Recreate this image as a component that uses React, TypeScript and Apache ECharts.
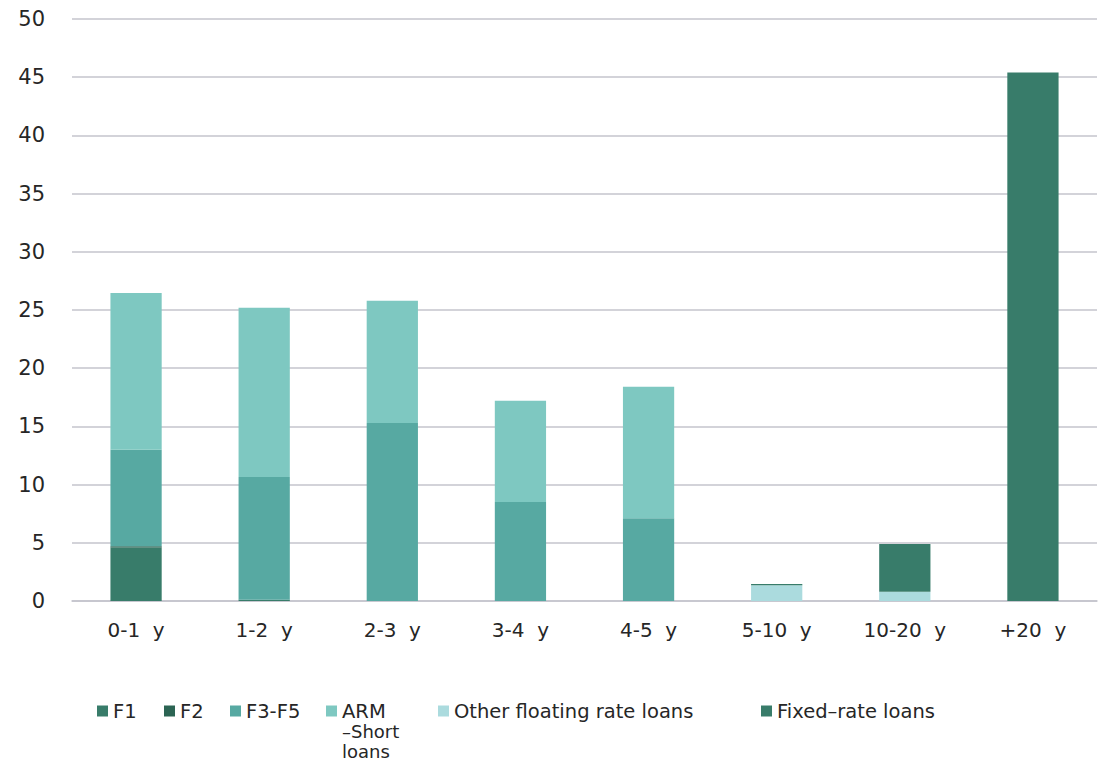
import React, { useEffect, useRef } from "react";
import * as echarts from "echarts";

const categories = ["0-1  y", "1-2  y", "2-3  y", "3-4  y", "4-5  y", "5-10  y", "10-20  y", "+20  y"];
const f1 = [4.6, 0.1, null, null, null, null, null, null];
const f2 = [0.1, null, null, null, null, null, null, null];
const f3f5 = [8.3, 10.55, 15.3, 8.5, 7.1, null, null, null];
const armShort = [13.45, 14.55, 10.5, 8.7, 11.3, null, null, null];
const otherFloating = [null, null, null, null, null, 1.35, 0.8, null];
const fixedRate = [null, null, null, null, null, 0.1, 4.1, 45.4];
const yTicks = { min: 0, max: 50, interval: 5 };

const FONT = "'DejaVu Sans', sans-serif";
const TEXT = "#262626";

const seriesDefs = [
  { name: "F1", label: "F1", data: f1, color: "#387c6a", legendLeft: 97 },
  { name: "F2", label: "F2", data: f2, color: "#2b6453", legendLeft: 164 },
  { name: "F3-F5", label: "F3-F5", data: f3f5, color: "#57a9a2", legendLeft: 230 },
  { name: "ARM –Short loans", label: "ARM", data: armShort, color: "#7ec8c1", legendLeft: 326 },
  { name: "Other floating rate loans", label: "Other floating rate loans", data: otherFloating, color: "#abdbde", legendLeft: 438 },
  { name: "Fixed–rate loans", label: "Fixed–rate loans", data: fixedRate, color: "#387c6a", legendLeft: 761 },
];

export default function App() {
  const ref = useRef<HTMLDivElement>(null);
  useEffect(() => {
    if (!ref.current) return;
    const chart = echarts.init(ref.current, null, { renderer: "svg" });
    chart.setOption({
      animation: false,
      backgroundColor: "#ffffff",
      textStyle: { fontFamily: FONT },
      grid: { left: 72, right: 8, top: 19, bottom: 163, containLabel: false },
      legend: seriesDefs.map((s) => ({
        data: [s.name],
        left: s.legendLeft,
        top: 701,
        icon: "rect",
        itemWidth: 11,
        itemHeight: 11,
        itemGap: 0,
        padding: 0,
        textStyle: { fontSize: 19.5, color: TEXT, fontFamily: FONT, lineHeight: 20 },
        formatter: () => s.label,
        selectedMode: false,
      })),
      graphic: [
        {
          type: "text",
          left: 342,
          top: 722,
          style: { text: "–Short", font: `18px ${FONT}`, fill: TEXT },
        },
        {
          type: "text",
          left: 342,
          top: 742,
          style: { text: "loans", font: `18px ${FONT}`, fill: TEXT },
        },
      ],
      xAxis: {
        type: "category",
        data: categories,
        axisLine: { show: true, lineStyle: { color: "#c4c4cc", width: 1.5 } },
        axisTick: { show: false },
        axisLabel: { fontSize: 20, color: TEXT, margin: 19, fontFamily: FONT },
      },
      yAxis: {
        type: "value",
        min: yTicks.min,
        max: yTicks.max,
        interval: yTicks.interval,
        axisLine: { show: false },
        axisTick: { show: false },
        axisLabel: { fontSize: 21, color: TEXT, margin: 27, fontFamily: FONT },
        splitLine: { lineStyle: { color: "#c4c4cc", width: 1.5 } },
      },
      series: seriesDefs.map((s) => ({
        name: s.name,
        type: "bar",
        stack: "total",
        data: s.data,
        barWidth: "40%",
        itemStyle: { color: s.color },
      })),
    });
    return () => chart.dispose();
  }, []);
  return <div ref={ref} style={{ width: 1105, height: 764, position: "absolute", left: 0, top: 0 }} />;
}
